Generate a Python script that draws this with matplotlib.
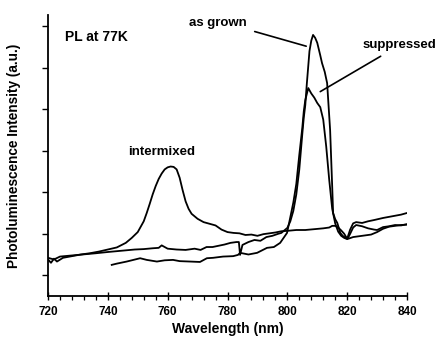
import matplotlib
matplotlib.use("Agg")
import matplotlib.pyplot as plt
from matplotlib.ticker import MultipleLocator

plt.rcParams['font.family'] = ['Liberation Sans', 'DejaVu Sans']

# Intermixed sample
x_inter = [720,721,722,723,725,728,731,734,737,740,743,746,748,750,752,753,754,755,756,757,
           758,759,760,761,762,763,764,765,766,767,768,770,772,774,776,778,780,782,784,786,
           788,790,792,794,796,798,800,803,806,809,812,814,815,816,817,818,819,820,821,822,
           823,825,827,829,832,835,838,840]
y_inter = [1.38,1.30,1.40,1.33,1.42,1.46,1.50,1.53,1.57,1.62,1.67,1.78,1.90,2.04,2.30,2.50,2.72,2.95,3.15,3.32,
           3.45,3.55,3.60,3.62,3.61,3.55,3.35,3.05,2.78,2.60,2.48,2.36,2.28,2.24,2.20,2.10,2.04,2.02,2.01,1.97,
           1.98,1.95,1.99,2.01,2.03,2.06,2.07,2.09,2.09,2.11,2.13,2.15,2.19,2.19,2.15,2.08,2.00,1.88,2.10,2.25,
           2.28,2.26,2.30,2.33,2.38,2.42,2.46,2.50]

# As grown sample
x_grown = [720,722,724,727,730,733,736,740,743,746,749,752,755,757,758,760,763,766,769,771,
           773,775,777,779,781,783,783.8,784.2,785,787,789,791,793,795,797,798,799,800,801,802,
           803,804,805,805.5,806,806.5,807.4,808,808.6,809.3,810,811,811.6,812.5,813.3,814.3,815,815.3,816,816.7,
           817.7,818.5,819.3,820.3,821,822,823,825,827,829,830,832,834,836,838,840]
y_grown = [1.42,1.38,1.45,1.47,1.49,1.51,1.53,1.56,1.58,1.60,1.62,1.63,1.65,1.66,1.72,1.64,1.62,1.61,1.64,1.61,
           1.68,1.68,1.71,1.74,1.78,1.80,1.80,1.49,1.73,1.80,1.85,1.83,1.92,1.95,2.00,2.02,2.08,2.14,2.30,2.55,
           2.95,3.55,4.40,4.80,5.10,5.60,6.40,6.65,6.79,6.72,6.60,6.30,6.11,5.90,5.63,4.50,3.13,2.50,2.35,2.26,
           2.02,1.95,1.91,1.90,2.00,2.15,2.21,2.18,2.13,2.10,2.09,2.16,2.18,2.21,2.20,2.23]

# Suppressed sample
x_supp = [741.3,743,746.3,748,750.8,753,756.4,759,761.8,764,767.5,770.8,773.1,775.2,778.5,781.9,783.5,784.2,787,789.9,
          793.2,795.5,797.6,799.9,801,802,803,804,805,805.5,806,807,808,809,810,811,812,813,814,815,
          816,817,818,819,820,822,824,826,828,830,832,834,836,838,840]
y_supp = [1.25,1.28,1.33,1.36,1.41,1.37,1.33,1.36,1.37,1.34,1.33,1.32,1.41,1.42,1.45,1.46,1.49,1.54,1.50,1.54,
          1.66,1.68,1.78,2.02,2.40,2.75,3.20,3.90,4.55,4.95,5.22,5.51,5.38,5.28,5.15,5.05,4.75,4.10,3.30,2.60,
          2.25,2.05,1.95,1.90,1.87,1.92,1.94,1.96,1.98,2.04,2.12,2.17,2.19,2.21,2.22]

x_ticks = [720, 740, 760, 780, 800, 820, 840]
y_ticks = [1, 2, 3, 4, 5, 6, 7]

fig = plt.figure(figsize=(4.38, 3.43), dpi=100)
ax = fig.add_axes([48/438, 47/343, 359/438, 281/343])

for xs, ys in [(x_inter, y_inter), (x_grown, y_grown), (x_supp, y_supp)]:
    ax.plot(xs, ys, color='black', lw=1.3)

ax.set_xlim(720, 840)
ax.set_ylim(0.5, 7.27)
ax.set_xticks(x_ticks)
ax.set_yticks(y_ticks)
ax.set_yticklabels([])
ax.xaxis.set_minor_locator(MultipleLocator(4))
ax.spines['top'].set_visible(False)
ax.spines['right'].set_visible(False)
ax.spines['left'].set_linewidth(1.3)
ax.spines['bottom'].set_linewidth(1.3)
ax.tick_params(axis='x', which='major', direction='inout', length=6, width=1.0, labelsize=8.5, pad=4)
ax.tick_params(axis='x', which='minor', direction='out', length=3, width=0.9)
ax.tick_params(axis='y', which='major', direction='out', length=4, width=1.0)
for lab in ax.get_xticklabels():
    lab.set_fontweight('bold')

ax.set_xlabel('Wavelength (nm)', fontsize=10, fontweight='bold', labelpad=3)
ax.set_ylabel('Photoluminescence Intensity (a.u.)', fontsize=9.8, fontweight='bold', labelpad=12)

ax.text(725.7, 6.74, 'PL at 77K', fontsize=10, fontweight='bold', ha='left', va='center')
ax.text(776.9, 7.08, 'as grown', fontsize=9.5, fontweight='bold', ha='center', va='center')
ax.text(837.5, 6.55, 'suppressed', fontsize=9.5, fontweight='bold', ha='center', va='center', clip_on=False)
ax.text(758.1, 3.97, 'intermixed', fontsize=9.5, fontweight='bold', ha='center', va='center')

ax.annotate('', xy=(807.2, 6.5), xytext=(788.2, 6.89),
            arrowprops=dict(arrowstyle='-', color='black', lw=1.2))
ax.annotate('', xy=(810.2, 5.39), xytext=(832, 6.31),
            arrowprops=dict(arrowstyle='-', color='black', lw=1.2))

fig.savefig('out.png', dpi=100)
